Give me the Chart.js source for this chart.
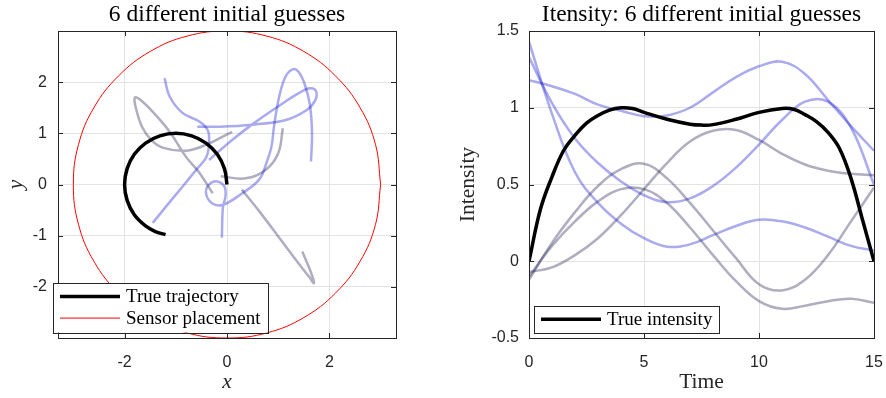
<!DOCTYPE html>
<html>
<head>
<meta charset="utf-8">
<script src="https://cdn.jsdelivr.net/npm/chart.js@4.4.0/dist/chart.umd.min.js"></script>
<style>
  html, body { margin: 0; padding: 0; background: #fff; }
  .panel { position: absolute; top: 0; width: 443px; height: 398px; }
</style>
</head>
<body>
<div class="panel" style="left:0"><canvas id="trajChart" width="443" height="398"></canvas></div>
<div class="panel" style="left:443px"><canvas id="intChart" width="443" height="398"></canvas></div>
<script>
// ---- left panel: trajectories ----
const trajXTicks = [-2, 0, 2];
const trajYTicks = [-2, -1, 0, 1, 2];

const trueTrajX = [0, -0.05, -0.19, -0.41, -0.69, -1, -1.31, -1.59, -1.81, -1.95, -2, -1.95, -1.81, -1.59, -1.4, -1.2];
const trueTrajY = [0, 0.31, 0.59, 0.81, 0.95, 1, 0.95, 0.81, 0.59, 0.31, 0, -0.31, -0.59, -0.81, -0.92, -0.98];

// sensors sit on a circle of radius 3
const sensorX = [3, 2.9, 2.6, 2.12, 1.5, 0.78, 0, -0.78, -1.5, -2.12, -2.6, -2.9, -3, -2.9, -2.6, -2.12, -1.5, -0.78, 0, 0.78, 1.5, 2.12, 2.6, 2.9, 3];
const sensorY = [0, 0.78, 1.5, 2.12, 2.6, 2.9, 3, 2.9, 2.6, 2.12, 1.5, 0.78, 0, -0.78, -1.5, -2.12, -2.6, -2.9, -3, -2.9, -2.6, -2.12, -1.5, -0.78, 0];

// initial guesses
const guessAX = [-1.22, -1.12, -0.87, -0.54, -0.38, -0.35, -0.4, -0.6, -0.85, -1.1, -1.45];
const guessAY = [2.08, 1.72, 1.4, 1.23, 1.07, 0.87, 0.54, 0.29, -0.02, -0.32, -0.75];
const guessBX = [-0.35, 0.1, 0.5, 0.96, 1.41, 1.62, 1.74, 1.72, 1.55, 1.15, 0.5, -0.15, -0.58];
const guessBY = [0.48, 0.87, 1.18, 1.5, 1.79, 1.88, 1.82, 1.64, 1.45, 1.26, 1.17, 1.13, 1.13];
const guessCX = [1.64, 1.66, 1.62, 1.52, 1.4, 1.28, 1.14, 1.02, 0.92, 0.87, 0.78, 0.63, 0.3, -0.09, -0.3, -0.41, -0.35, -0.19, -0.05, -0.03, -0.08, -0.1];
const guessCY = [0.45, 1.0, 1.55, 1.95, 2.2, 2.25, 2.1, 1.72, 1.15, 0.75, 0.45, 0.1, -0.17, -0.4, -0.36, -0.17, 0.0, 0.06, -0.04, -0.23, -0.45, -1.04];
const guessDX = [-0.28, -0.54, -0.8, -1.12, -1.45, -1.7, -1.8, -1.78, -1.66, -1.48, -1.26, -0.8, -0.4, 0.1];
const guessDY = [-0.17, 0.23, 0.54, 1.03, 1.42, 1.66, 1.7, 1.5, 1.13, 0.87, 0.72, 0.66, 0.78, 1.03];
const guessEX = [0.29, 0.65, 1.02, 1.35, 1.6, 1.7, 1.64, 1.47];
const guessEY = [-0.1, -0.55, -1.04, -1.48, -1.8, -1.93, -1.72, -1.31];
const guessFX = [1.09, 1.0, 0.76, 0.37, -0.12];
const guessFY = [1.1, 0.61, 0.29, 0.12, 0.16];

// ---- right panel: intensity ----
const intTimeTicks = [0, 5, 10, 15];
const intYTicks = [-0.5, 0, 0.5, 1, 1.5];
const intYTickLabels = ['-0.5', '0', '0.5', '1', '1.5'];

const trueTime = [0, 0.5, 1, 1.5, 2, 2.5, 3, 3.5, 4, 4.5, 5, 6, 7, 7.5, 8, 9, 10, 11, 11.5, 12, 12.5, 13, 13.5, 14, 14.5, 15];
const trueIntensity = [0, 0.34, 0.55, 0.72, 0.82, 0.9, 0.95, 0.985, 1.0, 0.995, 0.97, 0.925, 0.893, 0.887, 0.89, 0.925, 0.97, 0.995, 0.99, 0.955, 0.91, 0.84, 0.735, 0.54, 0.27, 0];

const guessTime = [0, 1, 2, 3, 4, 5, 6, 7, 8, 9, 10, 11, 12, 13, 14, 15];
const intGuessP = [1.43, 0.96, 0.58, 0.38, 0.245, 0.15, 0.095, 0.11, 0.17, 0.23, 0.27, 0.26, 0.22, 0.16, 0.1, 0.07];
const intGuessQ = [1.33, 1.03, 0.8, 0.64, 0.52, 0.43, 0.385, 0.41, 0.49, 0.61, 0.76, 0.92, 1.04, 1.04, 0.87, 0.5];
const intGuessB = [1.18, 1.14, 1.09, 1.02, 0.98, 0.945, 0.95, 1.0, 1.1, 1.2, 1.27, 1.3, 1.22, 1.05, 0.88, 0.72];
const intGuessG1 = [-0.12, 0.12, 0.32, 0.49, 0.6, 0.635, 0.54, 0.38, 0.2, 0.02, -0.15, -0.19, -0.12, 0.04, 0.26, 0.48];
const intGuessG2 = [-0.1, 0.1, 0.26, 0.39, 0.47, 0.47, 0.38, 0.22, 0.04, -0.13, -0.26, -0.31, -0.29, -0.26, -0.245, -0.27];
const intGuessG3 = [-0.07, -0.04, 0.04, 0.15, 0.3, 0.47, 0.64, 0.78, 0.85, 0.855, 0.79, 0.7, 0.63, 0.59, 0.57, 0.56];

const guessBlue = 'rgba(20,20,210,0.36)';
const guessGray = 'rgba(30,30,80,0.36)';
const axisColor = '#262626';
const gridColor = '#e3e3e3';

function pts(xs, ys) {
  return xs.map((x, i) => ({ x: x, y: ys[i] }));
}

function guessSet(xs, ys, color) {
  return { label: '', data: pts(xs, ys), borderColor: color, borderWidth: 2.5, pointRadius: 0, tension: 0.4, fill: false };
}

// keep axis boxes at a fixed size so the plot areas line up with the picture
function fixX(h) {
  return s => { s.height = h; s.paddingLeft = 0; s.paddingRight = 0; };
}
function fixY(w) {
  return s => { s.width = w; s.paddingTop = 0; s.paddingBottom = 0; };
}

// box round the axes with inward ticks, matlab style, plus title over the axes
const frameBox = {
  id: 'frameBox',
  afterDatasetsDraw(chart, args, o) {
    const { ctx, chartArea: a, scales } = chart;
    ctx.save();
    ctx.strokeStyle = axisColor;
    ctx.lineWidth = 1;
    ctx.strokeRect(Math.round(a.left) + 0.5, Math.round(a.top) + 0.5, Math.round(a.right - a.left), Math.round(a.bottom - a.top));
    ctx.beginPath();
    scales.x.ticks.forEach(t => {
      const px = Math.round(scales.x.getPixelForValue(t.value)) + 0.5;
      ctx.moveTo(px, a.bottom); ctx.lineTo(px, a.bottom - 5);
      ctx.moveTo(px, a.top); ctx.lineTo(px, a.top + 5);
    });
    scales.y.ticks.forEach(t => {
      const py = Math.round(scales.y.getPixelForValue(t.value)) + 0.5;
      ctx.moveTo(a.left, py); ctx.lineTo(a.left + 5, py);
      ctx.moveTo(a.right, py); ctx.lineTo(a.right - 5, py);
    });
    ctx.stroke();
    ctx.fillStyle = '#000';
    ctx.font = o.font;
    ctx.textAlign = 'center';
    ctx.textBaseline = 'alphabetic';
    ctx.fillText(o.text, (a.left + a.right) / 2, o.baseline);
    ctx.restore();
  }
};

// legend in a box inside the axes
const boxLegend = {
  id: 'boxLegend',
  afterDraw(chart, args, o) {
    const { ctx, chartArea: a } = chart;
    const items = chart.data.datasets.filter(d => d.label);
    ctx.save();
    ctx.font = o.font;
    const textW = Math.max(...items.map(d => ctx.measureText(d.label).width));
    const w = o.padLeft + o.lineLength + o.gap + textW + o.padRight;
    const h = o.rowTop + (items.length - 1) * o.rowGap + o.rowBottom;
    const x0 = Math.round(a.left + o.dx);
    const y0 = Math.round(a.bottom + o.dy - h);
    ctx.fillStyle = '#fff';
    ctx.fillRect(x0, y0, w, h);
    ctx.strokeStyle = axisColor;
    ctx.lineWidth = 1;
    ctx.strokeRect(x0 + 0.5, y0 + 0.5, Math.round(w), Math.round(h));
    items.forEach((d, i) => {
      const yy = y0 + o.rowTop + i * o.rowGap;
      ctx.strokeStyle = d.borderColor;
      ctx.lineWidth = d.borderWidth;
      ctx.beginPath();
      ctx.moveTo(x0 + o.padLeft, yy);
      ctx.lineTo(x0 + o.padLeft + o.lineLength, yy);
      ctx.stroke();
      ctx.fillStyle = '#000';
      ctx.textBaseline = 'middle';
      ctx.fillText(d.label, x0 + o.padLeft + o.lineLength + o.gap, yy + 1);
    });
    ctx.restore();
  }
};

const tickFont = { family: 'Liberation Sans', size: 16 };
const serif = 'Liberation Serif';

new Chart(document.getElementById('trajChart'), {
  type: 'line',
  data: {
    datasets: [
      { label: 'True trajectory', data: pts(trueTrajX, trueTrajY), borderColor: '#000', borderWidth: 3.5, pointRadius: 0, tension: 0.4, fill: false },
      { label: 'Sensor placement', data: pts(sensorX, sensorY), borderColor: '#ff0000', borderWidth: 1, pointRadius: 0, tension: 0.4, fill: false },
      guessSet(guessAX, guessAY, guessBlue),
      guessSet(guessBX, guessBY, guessBlue),
      guessSet(guessCX, guessCY, guessBlue),
      guessSet(guessDX, guessDY, guessGray),
      guessSet(guessEX, guessEY, guessGray),
      guessSet(guessFX, guessFY, guessGray)
    ]
  },
  options: {
    responsive: false,
    animation: false,
    devicePixelRatio: 1,
    layout: { padding: { left: 0, right: 47, top: 31, bottom: 0 } },
    scales: {
      x: {
        type: 'linear', min: -3.3, max: 3.3,
        afterBuildTicks: s => { s.ticks = trajXTicks.map(v => ({ value: v })); },
        afterFit: fixX(60),
        grid: { color: gridColor, drawTicks: false },
        border: { display: false },
        ticks: { font: tickFont, color: axisColor, padding: 15, maxRotation: 0, callback: v => String(v) },
        title: { display: true, text: 'x', color: axisColor, font: { family: serif, size: 21.5, style: 'italic' }, padding: { top: 0, bottom: 3 } }
      },
      y: {
        type: 'linear', min: -3, max: 3,
        afterBuildTicks: s => { s.ticks = trajYTicks.map(v => ({ value: v })); },
        afterFit: fixY(58),
        grid: { color: gridColor, drawTicks: false },
        border: { display: false },
        ticks: { font: tickFont, color: axisColor, padding: 11, callback: v => String(v) },
        title: { display: true, text: 'y', color: axisColor, font: { family: serif, size: 21.5, style: 'italic' }, padding: { top: 3, bottom: 0 } }
      }
    },
    plugins: {
      legend: { display: false },
      tooltip: { enabled: false },
      frameBox: { text: '6 different initial guesses', font: '23.5px "Liberation Serif"', baseline: 21 },
      boxLegend: { font: '19px "Liberation Serif"', dx: -5, dy: -5.5, padLeft: 7, lineLength: 60, gap: 6, padRight: 7, rowTop: 13.5, rowGap: 21.6, rowBottom: 14.4 }
    }
  },
  plugins: [frameBox, boxLegend]
});

new Chart(document.getElementById('intChart'), {
  type: 'line',
  data: {
    datasets: [
      { label: 'True intensity', data: pts(trueTime, trueIntensity), borderColor: '#000', borderWidth: 3.5, pointRadius: 0, tension: 0.4, fill: false },
      guessSet(guessTime, intGuessP, guessBlue),
      guessSet(guessTime, intGuessQ, guessBlue),
      guessSet(guessTime, intGuessB, guessBlue),
      guessSet(guessTime, intGuessG1, guessGray),
      guessSet(guessTime, intGuessG2, guessGray),
      guessSet(guessTime, intGuessG3, guessGray)
    ]
  },
  options: {
    responsive: false,
    animation: false,
    devicePixelRatio: 1,
    layout: { padding: { left: 0, right: 12, top: 31, bottom: 0 } },
    scales: {
      x: {
        type: 'linear', min: 0, max: 15,
        afterBuildTicks: s => { s.ticks = intTimeTicks.map(v => ({ value: v })); },
        afterFit: fixX(60),
        grid: { color: gridColor, drawTicks: false },
        border: { display: false },
        ticks: { font: tickFont, color: axisColor, padding: 15, maxRotation: 0, callback: v => String(v) },
        title: { display: true, text: 'Time', color: axisColor, font: { family: serif, size: 21.5 }, padding: { top: 0, bottom: 3 } }
      },
      y: {
        type: 'linear', min: -0.5, max: 1.5,
        afterBuildTicks: s => { s.ticks = intYTicks.map(v => ({ value: v })); },
        afterFit: fixY(86),
        grid: { color: gridColor, drawTicks: false },
        border: { display: false },
        ticks: { font: tickFont, color: axisColor, padding: 10, callback: (v, i) => intYTickLabels[i] },
        title: { display: true, text: 'Intensity', color: axisColor, font: { family: serif, size: 21.5 }, padding: { top: 12, bottom: 0 } }
      }
    },
    plugins: {
      legend: { display: false },
      tooltip: { enabled: false },
      frameBox: { text: 'Itensity: 6 different initial guesses', font: '23.5px "Liberation Serif"', baseline: 21 },
      boxLegend: { font: '19px "Liberation Serif"', dx: 4.5, dy: -5.5, padLeft: 7, lineLength: 60, gap: 6, padRight: 7, rowTop: 13.3, rowGap: 21.6, rowBottom: 13.4 }
    }
  },
  plugins: [frameBox, boxLegend]
});
</script>
</body>
</html>
